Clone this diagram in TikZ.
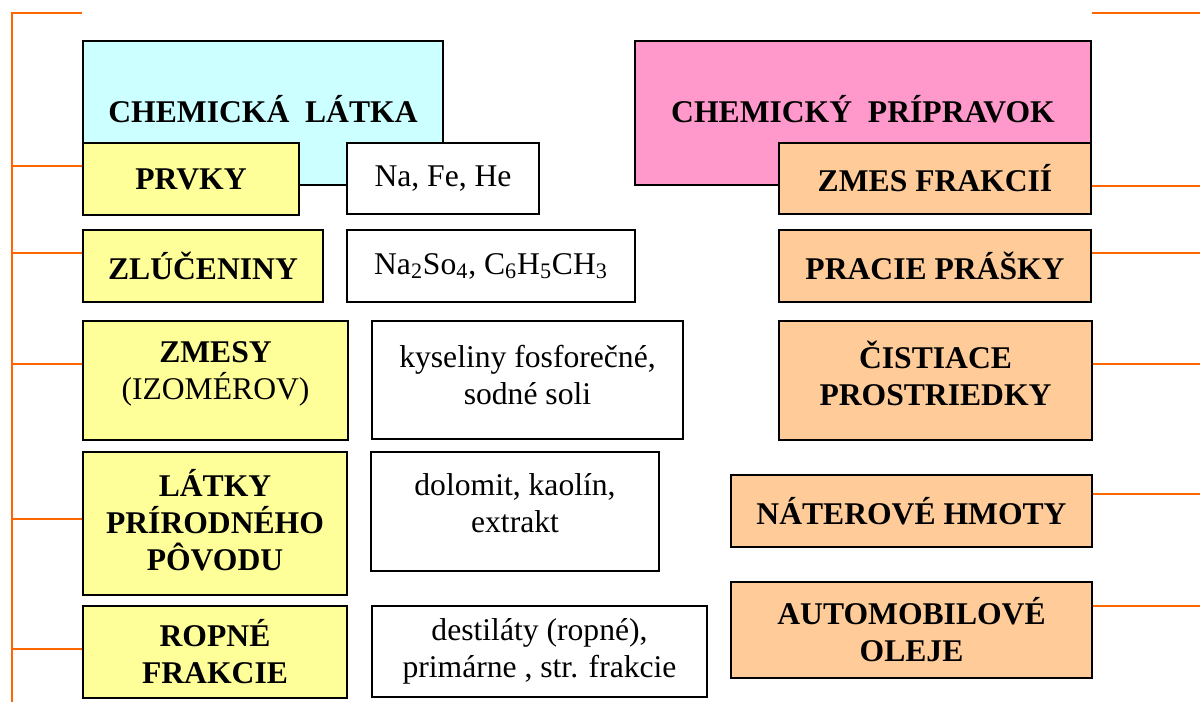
\documentclass[tikz,border=0pt]{standalone}
\usepackage{fontspec}
\setmainfont{Liberation Serif}
\usetikzlibrary{positioning}
\definecolor{latkacol}{HTML}{CCFFFF}
\definecolor{pripcol}{HTML}{FF99CC}
\definecolor{ylw}{HTML}{FFFF99}
\definecolor{peach}{HTML}{FFCC99}
\definecolor{linkcol}{HTML}{FF6600}
\tikzset{
  box/.style={draw=black, line width=1.1pt, inner sep=0pt, align=center,
    font=\fontsize{18}{21}\selectfont},
  hbox/.style={box, font=\fontsize{18}{21}\selectfont\bfseries},
  txt/.style={inner sep=0pt, align=center, font=\fontsize{18}{21}\selectfont},
  htxt/.style={txt, font=\fontsize{18}{21}\selectfont\bfseries},
  link/.style={draw=linkcol, line width=1.1pt}}

\begin{document}
\begin{tikzpicture}[x=0.02cm, y=-0.02cm]
\useasboundingbox (0,0) rectangle (1200,702);
% main headings
\node[hbox, fill=latkacol, minimum width=7.2cm, minimum height=2.88cm] (latka) at (263,113) {};
\node[htxt] (latkat) at ([yshift=0.08cm]latka.center) {CHEMICKÁ\ \ LÁTKA};
\node[hbox, fill=pripcol, minimum width=9.12cm, minimum height=2.88cm] (pripravok) at (863,113) {};
\node[htxt] (pripravokt) at ([yshift=0.08cm]pripravok.center) {CHEMICKÝ\ \ PRÍPRAVOK};
% left column
\node[hbox, fill=ylw, minimum width=4.32cm, minimum height=1.44cm] (prvky) at (191,179) {PRVKY};
\node[hbox, fill=ylw, minimum width=4.8cm, minimum height=1.44cm] (zluc) at (203,266) {ZLÚČENINY};
\node[hbox, fill=ylw, minimum width=5.3cm, minimum height=2.38cm] (zmesy) at (215.5,380.5) {};
\node[htxt] (zmesyt) at ([yshift=0.14cm]zmesy.center) {ZMESY\\\textmd{(IZOMÉROV)}};
\node[hbox, fill=ylw, minimum width=5.28cm, minimum height=2.86cm] (prirod) at (215,523.5) {};
\node[htxt] (prirodt) at ([yshift=0.06cm]prirod.center) {LÁTKY\\PRÍRODNÉHO\\PÔVODU};
\node[hbox, fill=ylw, minimum width=5.28cm, minimum height=1.84cm] (ropne) at (215,652) {ROPNÉ\\FRAKCIE};
% examples
\node[box, fill=white, minimum width=3.84cm, minimum height=1.42cm] (prvkyex) at (443,178.5) {Na, Fe, He};
\node[box, fill=white, minimum width=5.76cm, minimum height=1.44cm] (zlucex) at (491,266) {Na\textsubscript{2}So\textsubscript{4}, C\textsubscript{6}H\textsubscript{5}CH\textsubscript{3}};
\node[box, fill=white, minimum width=6.22cm, minimum height=2.36cm] (zmesyex) at (527.5,380) {};
\node[txt] (zmesyext) at ([yshift=0.1cm]zmesyex.center) {kyseliny fosforečné,\\sodné soli};
\node[box, fill=white, minimum width=5.76cm, minimum height=2.38cm] (prirodex) at (515,511.5) {};
\node[txt] (prirodext) at ([yshift=0.16cm]prirodex.center) {dolomit, kaolín,\\extrakt};
\node[box, fill=white, minimum width=6.7cm, minimum height=1.82cm] (ropneex) at (539.5,651.5) {destiláty (ropné),\\primárne , str. frakcie};
% right column
\node[hbox, fill=peach, minimum width=6.24cm, minimum height=1.42cm] (frakcie) at (935,178.5) {ZMES FRAKCIÍ};
\node[hbox, fill=peach, minimum width=6.24cm, minimum height=1.44cm] (prasky) at (935,266) {PRACIE PRÁŠKY};
\node[hbox, fill=peach, minimum width=6.26cm, minimum height=2.38cm] (cistiace) at (935.5,380.5) {};
\node[htxt] (cistiacet) at ([yshift=0.14cm]cistiace.center) {ČISTIACE\\PROSTRIEDKY};
\node[hbox, fill=peach, minimum width=7.22cm, minimum height=1.44cm] (natery) at (911.5,511) {NÁTEROVÉ HMOTY};
\node[hbox, fill=peach, minimum width=7.22cm, minimum height=1.92cm] (oleje) at (911.5,630) {AUTOMOBILOVÉ\\OLEJE};
% orange connectors, left
\coordinate (ltop) at (12,13);
\coordinate (lbot) at (12,702);
\coordinate (l1) at (12,166);
\coordinate (l2) at (12,253);
\coordinate (l3) at (12,364);
\coordinate (l4) at (12,519);
\coordinate (l5) at (12,649);
\draw[link] (ltop -| latka.west) -- (ltop) -- (lbot);
\draw[link] (l1) -- (l1 -| prvky.west);
\draw[link] (l2) -- (l2 -| zluc.west);
\draw[link] (l3) -- (l3 -| zmesy.west);
\draw[link] (l4) -- (l4 -| prirod.west);
\draw[link] (l5) -- (l5 -| ropne.west);
% orange connectors, right
\coordinate (rtop) at (1200,13);
\coordinate (r1) at (1200,186);
\coordinate (r2) at (1200,253);
\coordinate (r3) at (1200,364);
\coordinate (r4) at (1200,494);
\coordinate (r5) at (1200,606);
\draw[link] (rtop -| pripravok.east) -- (rtop);
\draw[link] (r1 -| frakcie.east) -- (r1);
\draw[link] (r2 -| prasky.east) -- (r2);
\draw[link] (r3 -| cistiace.east) -- (r3);
\draw[link] (r4 -| natery.east) -- (r4);
\draw[link] (r5 -| oleje.east) -- (r5);
\end{tikzpicture}
\end{document}
